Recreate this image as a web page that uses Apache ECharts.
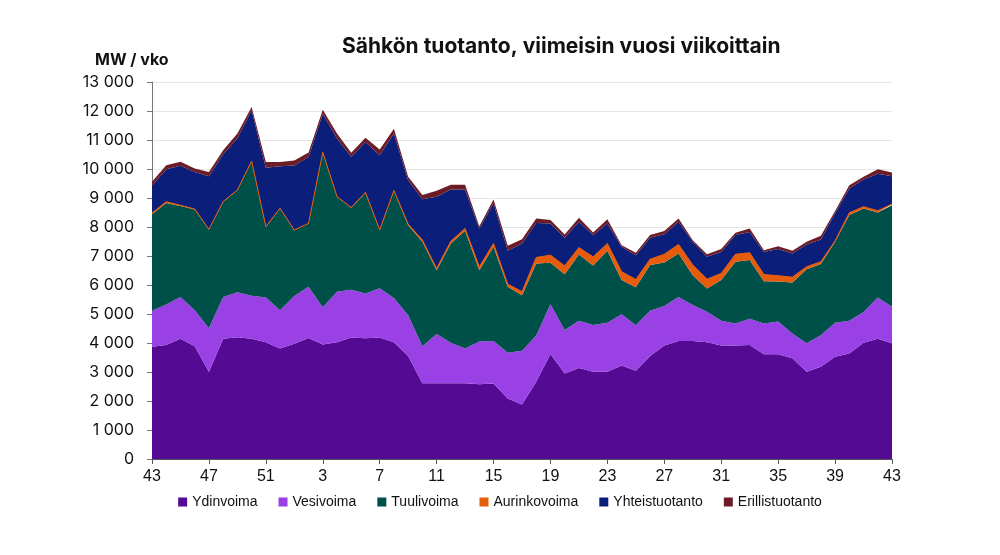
<!DOCTYPE html>
<html>
<head>
<meta charset="utf-8">
<script src="https://cdn.jsdelivr.net/npm/echarts@6/dist/echarts.min.js"></script>
<style>
  html, body { margin: 0; padding: 0; background: #fff; }
  #chart { width: 1000px; height: 555px; }
</style>
</head>
<body>
<div id="chart"></div>
<script>
// viikot 43 (edellinen vuosi) ... 43
const weeks = [43, 44, 45, 46, 47, 48, 49, 50, 51, 52,
  1, 2, 3, 4, 5, 6, 7, 8, 9, 10, 11, 12, 13, 14, 15, 16, 17, 18, 19, 20,
  21, 22, 23, 24, 25, 26, 27, 28, 29, 30, 31, 32, 33, 34, 35, 36, 37, 38, 39, 40,
  41, 42, 43].map(String);

const ydinvoima = [3870, 3930, 4150, 3890, 3010, 4150, 4200, 4150, 4030, 3810,
  3970, 4170, 3950, 4030, 4190, 4160, 4190, 4030, 3550, 2610,
  2610, 2610, 2610, 2580, 2600, 2090, 1880, 2660, 3620, 2950,
  3140, 3010, 3010, 3220, 3040, 3550, 3910, 4070, 4070, 4030,
  3910, 3910, 3930, 3610, 3610, 3470, 3010, 3180, 3530, 3640,
  4010, 4150, 3990];

const vesivoima = [1240, 1400, 1440, 1240, 1500, 1440, 1550, 1480, 1540, 1320,
  1650, 1770, 1280, 1740, 1650, 1550, 1700, 1520, 1410, 1280,
  1700, 1400, 1200, 1470, 1470, 1570, 1850, 1600, 1720, 1500,
  1630, 1610, 1690, 1770, 1570, 1560, 1370, 1520, 1240, 1050,
  860, 760, 910, 1060, 1130, 860, 980, 1090, 1170, 1130,
  1060, 1420, 1260];

const tuulivoima = [3330, 3500, 3130, 3470, 3400, 3280, 3520, 4640, 2440, 3510,
  2270, 2180, 5340, 3270, 2820, 3470, 2000, 3700, 3100, 3600,
  2200, 3420, 4060, 2460, 3250, 2280, 1920, 2480, 1430, 1920,
  2280, 2050, 2480, 1180, 1310, 1580, 1500, 1500, 1030, 800,
  1400, 2130, 2020, 1460, 1380, 1760, 2550, 2450, 2790, 3640,
  3570, 2930, 3500];

const aurinkovoima = [40, 40, 30, 20, 10, 10, 5, 5, 5, 5,
  5, 5, 5, 10, 10, 15, 15, 10, 40, 60,
  60, 80, 80, 120, 110, 90, 120, 210, 260, 290,
  240, 300, 250, 290, 270, 200, 280, 310, 350, 320,
  230, 260, 250, 230, 200, 180, 90, 80, 30, 80,
  60, 60, 40];

const yhteistuotanto = [940, 1120, 1360, 1280, 1830, 1630, 1780, 1750, 2030, 1450,
  2230, 2290, 1330, 2000, 1750, 1740, 2570, 1960, 1510, 1410,
  2470, 1780, 1340, 1320, 1400, 1150, 1660, 1190, 1090, 970,
  890, 750, 690, 860, 840, 740, 690, 780, 800, 770,
  740, 660, 720, 780, 920, 820, 770, 770, 950, 840,
  940, 1280, 960];

const erillistuotanto = [140, 140, 140, 120, 150, 140, 170, 110, 200, 150,
  170, 150, 140, 170, 140, 140, 200, 170, 120, 140,
  210, 170, 170, 80, 120, 170, 150, 150, 120, 110,
  140, 90, 150, 50, 80, 90, 110, 110, 50, 90,
  100, 80, 120, 60, 100, 90, 90, 130, 80, 110,
  90, 150, 130];

const seriesNames = ['Ydinvoima', 'Vesivoima', 'Tuulivoima', 'Aurinkovoima', 'Yhteistuotanto', 'Erillistuotanto'];
const seriesData = [ydinvoima, vesivoima, tuulivoima, aurinkovoima, yhteistuotanto, erillistuotanto];
const colors = ['#550a94', '#9a41e6', '#00504a', '#e65c0a', '#0b1e7a', '#6b1c26'];

const chart = echarts.init(document.getElementById('chart'));

const formatNumber = (v) => String(v).replace(/\B(?=(\d{3})+(?!\d))/g, ' ');

chart.setOption({
  animation: false,
  color: colors,
  title: [
    {
      text: 'Sähkön tuotanto, viimeisin vuosi viikoittain',
      left: 337,
      top: 31,
      textStyle: { fontFamily: 'Inter', fontWeight: 'bold', fontSize: 21, color: '#111' }
    },
    {
      text: 'MW / vko',
      left: 90,
      top: 47,
      textStyle: { fontFamily: 'Inter', fontWeight: 'bold', fontSize: 16, color: '#111' }
    }
  ],
  legend: {
    data: seriesNames,
    top: 490,
    left: 'center',
    icon: 'rect',
    itemWidth: 9,
    itemHeight: 9,
    itemGap: 21,
    textStyle: { fontFamily: 'Liberation Sans', fontSize: 14, color: '#111' }
  },
  grid: { left: 152, right: 108, top: 82, bottom: 96 },
  xAxis: {
    type: 'category',
    data: weeks,
    boundaryGap: false,
    axisLine: { lineStyle: { color: '#555', width: 1 } },
    axisTick: { interval: 3, length: 5, lineStyle: { color: '#555' } },
    axisLabel: {
      interval: 3,
      margin: 10,
      fontFamily: 'Liberation Sans',
      fontSize: 16,
      color: '#111'
    },
    splitLine: { show: false }
  },
  yAxis: {
    type: 'value',
    min: 0,
    max: 13000,
    interval: 1000,
    axisLine: { show: true, lineStyle: { color: '#777', width: 1 } },
    axisTick: { show: true, length: 5, lineStyle: { color: '#777' } },
    axisLabel: {
      margin: 18,
      fontFamily: 'Inter',
      fontSize: 16,
      color: '#111',
      formatter: formatNumber
    },
    splitLine: { lineStyle: { color: '#e6e6e6', width: 1 } }
  },
  series: seriesNames.map((name, i) => ({
    name: name,
    type: 'line',
    stack: 'total',
    data: seriesData[i],
    symbol: 'none',
    lineStyle: { width: name === 'Aurinkovoima' ? 1 : 0, color: colors[i] },
    areaStyle: { color: colors[i], opacity: 1 },
    emphasis: { disabled: true }
  }))
});
</script>
</body>
</html>
